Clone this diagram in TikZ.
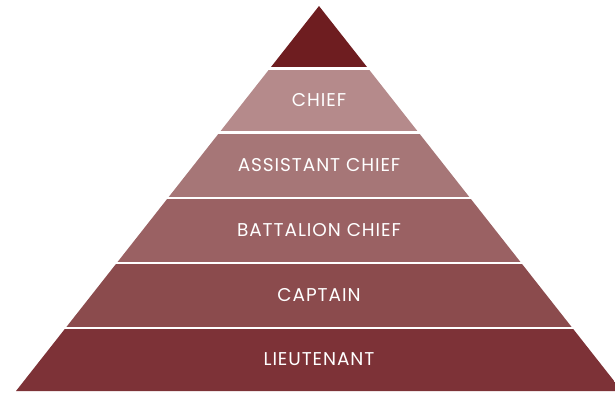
\documentclass[tikz,border=0pt]{standalone}
\usepackage{fontspec}
\setmainfont{Poppins}[LetterSpace=5]
\definecolor{cTop}{HTML}{6E1D20}
\definecolor{cChief}{HTML}{B58A8B}
\definecolor{cAsst}{HTML}{A67677}
\definecolor{cBatt}{HTML}{9A6163}
\definecolor{cCapt}{HTML}{8B4B4D}
\definecolor{cLieu}{HTML}{7D3237}
\begin{document}
\begin{tikzpicture}[x=1pt,y=-1pt,
  lbl/.style={text=white,font=\fontsize{18.5}{18.5}\selectfont,inner sep=0pt}]
\useasboundingbox (0,0) rectangle (615,392);
\begin{scope}
\clip (0,0) rectangle (615,392);
\clip (319,6) -- (16,391) -- (622,391) -- cycle;
\fill[cTop] (0,0) rectangle (615,67);
\fill[cChief] (0,69.5) rectangle (615,131);
\fill[cAsst] (0,134) rectangle (615,196.5);
\fill[cBatt] (0,199) rectangle (615,261.5);
\fill[cCapt] (0,264) rectangle (615,326.5);
\fill[cLieu] (0,329) rectangle (615,392);
\end{scope}
\node[lbl] (chief) at (319,100) {CHIEF};
\node[lbl] (asst) at (319,165) {ASSISTANT CHIEF};
\node[lbl] (batt) at (319,230) {BATTALION CHIEF};
\node[lbl] (capt) at (319,295) {CAPTAIN};
\node[lbl] (lieu) at (319,359) {LIEUTENANT};
\end{tikzpicture}
\end{document}
